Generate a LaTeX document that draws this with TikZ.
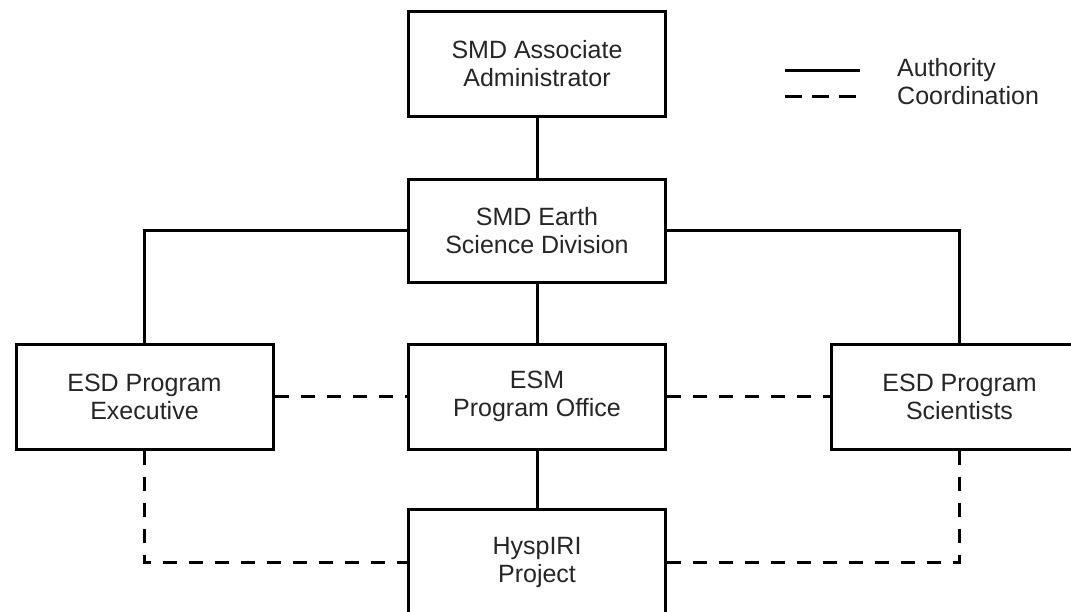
\documentclass[tikz,border=0pt]{standalone}
\usepackage{fontspec}
\setmainfont{Liberation Sans}
\begin{document}
\begin{tikzpicture}[x=1pt,y=-1pt,
  orgbox/.style={draw, line width=3pt, fill=white, minimum width=257pt, minimum height=105pt,
    align=center, inner sep=0pt, font=\fontsize{25}{28}\selectfont, text=black!85},
  authline/.style={line width=3pt},
  coordline/.style={line width=3pt, dash pattern=on 14pt off 12pt},
  legtext/.style={anchor=base west, inner sep=0pt, font=\fontsize{25}{28}\selectfont, text=black!85}]
\useasboundingbox (0,0) rectangle (1071,611);
\clip (0,0) rectangle (1071,611);
\node[orgbox] (aa) at (537,64) {SMD Associate\\Administrator};
\node[orgbox, minimum height=103pt] (esd) at (537,230.5) {SMD Earth\\Science Division};
\node[orgbox] (exec) at (144.5,396.5) {ESD Program\\Executive};
\node[orgbox] (esm) at (537,396.5) {ESM\\Program Office};
\node[orgbox] (sci) at (959.5,396.5) {ESD Program\\Scientists};
\node[orgbox, minimum height=106pt] (hyp) at (537,562) {HyspIRI\\Project};
% authority
\draw[authline] (aa.south) -- (esd.north);
\draw[authline] (esd.west) -| (exec.north);
\draw[authline] (esd.east) -| (sci.north);
\draw[authline] (esd.south) -- (esm.north);
\draw[authline] (esm.south) -- (hyp.north);
% coordination
\draw[coordline] (exec.east) -- (esm.west);
\draw[coordline] (esm.east) -- (sci.west);
\draw[coordline] (exec.south) |- (hyp.west);
\draw[coordline] (sci.south) |- (hyp.east);
% legend
\coordinate (la1) at (785,70);
\coordinate (la2) at (860,70);
\coordinate (lc1) at (785,96);
\coordinate (lc2) at (860,96);
\draw[authline] (la1) -- (la2);
\draw[line width=3pt, dash pattern=on 17pt off 10pt] (lc1) -- (lc2);
\node[legtext] (lta) at (897,76) {Authority};
\node[legtext] (ltc) at (897,104) {Coordination};
\end{tikzpicture}
\end{document}
